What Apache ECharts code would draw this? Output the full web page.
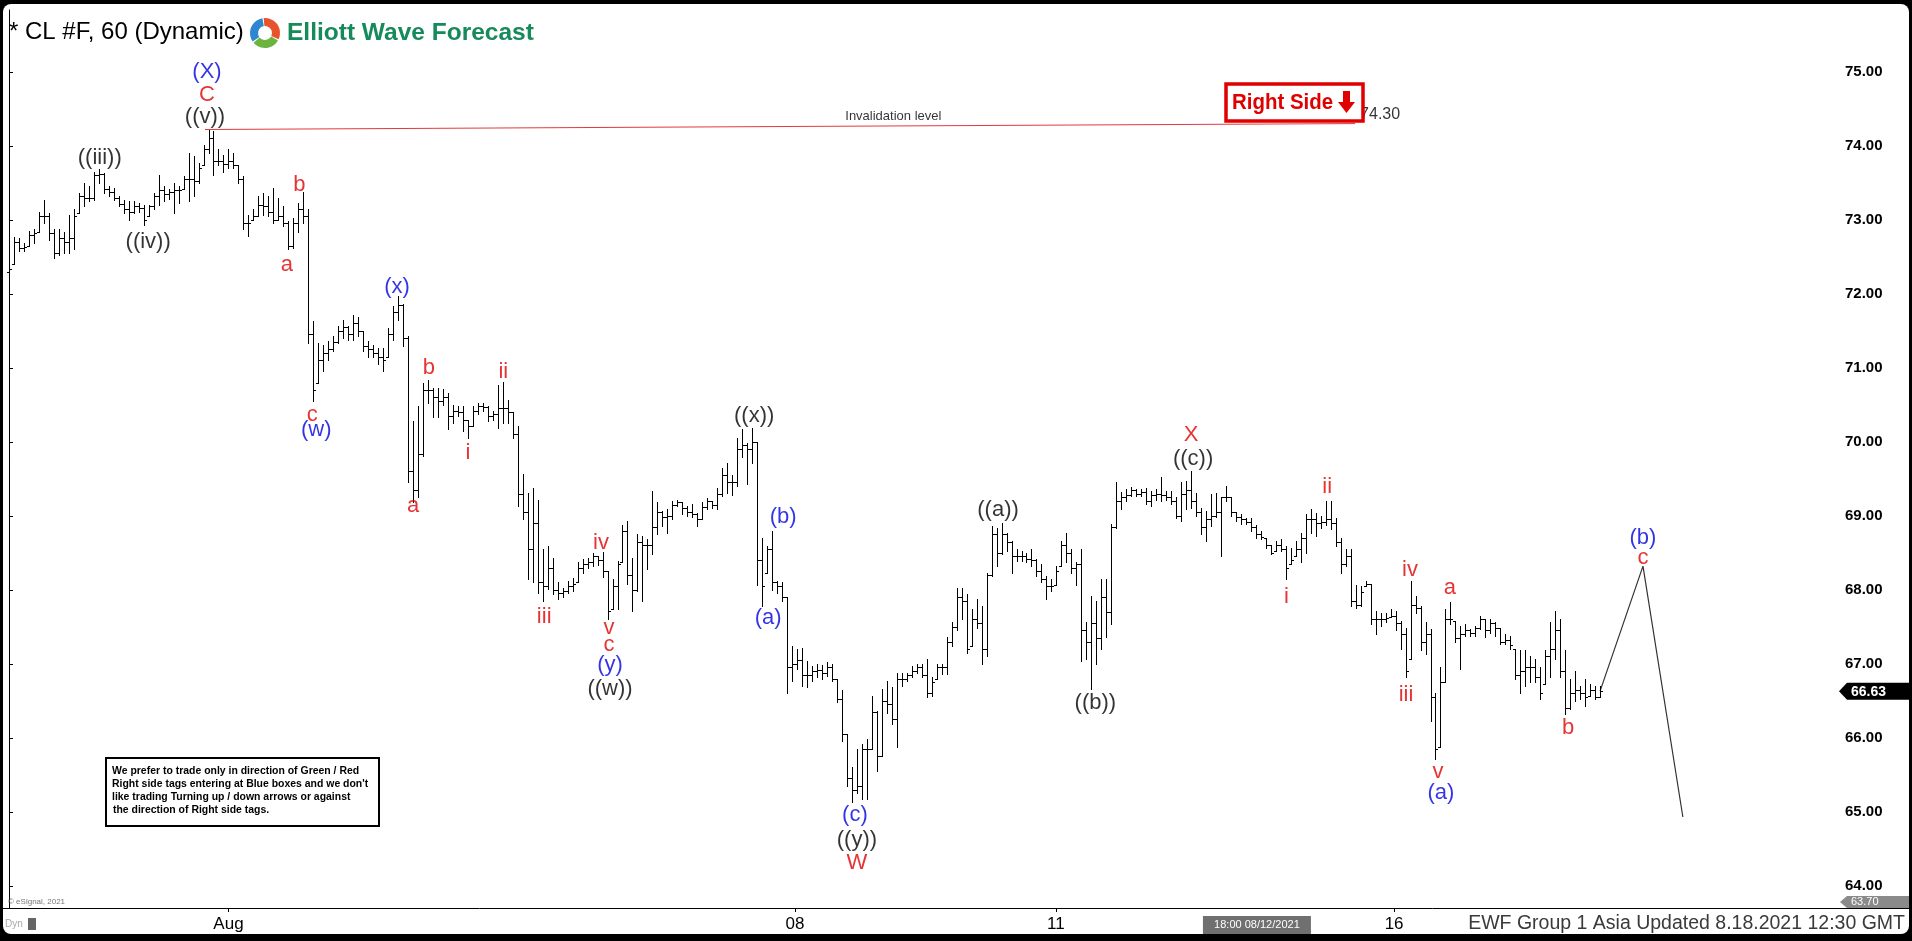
<!DOCTYPE html>
<html><head><meta charset="utf-8">
<script src="https://cdn.jsdelivr.net/npm/echarts@6/dist/echarts.min.js"></script>
<style>html,body{margin:0;padding:0;background:#000;overflow:hidden}#c{width:1912px;height:941px}</style>
</head><body><div id="c"></div>
<script>
// ---- Data (hourly OHLC bars, CL #F) ----
const opens = [
72.30,72.40,72.70,72.62,72.64,72.80,72.84,73.05,73.05,72.82,
72.55,72.75,72.70,72.75,73.09,73.32,73.30,73.30,73.60,73.62,
73.42,73.38,73.30,73.22,73.14,73.10,73.18,73.16,73.05,73.18,
73.32,73.40,73.35,73.38,73.40,73.41,73.55,73.55,73.52,73.74,
73.95,74.10,73.80,73.80,73.75,73.80,73.74,73.55,72.95,73.00,
73.05,73.20,73.18,73.10,73.00,73.05,72.95,72.65,72.95,73.15,
73.05,71.45,70.80,71.10,71.20,71.25,71.35,71.50,71.55,71.45,
71.60,71.50,71.30,71.25,71.20,71.15,71.14,71.45,71.75,71.85,
71.40,69.60,69.35,69.83,70.70,70.70,70.60,70.55,70.60,70.35,
70.42,70.40,70.30,70.22,70.42,70.48,70.47,70.35,70.38,70.45,
70.45,70.40,70.10,69.30,69.05,68.55,68.90,68.10,68.05,68.30,
68.00,67.95,67.98,68.05,68.10,68.30,68.35,68.38,68.45,68.40,
68.25,67.74,68.05,68.37,68.80,68.20,68.00,68.65,68.60,68.60,
68.85,69.05,68.98,69.00,69.15,69.18,69.10,69.05,69.02,68.95,
69.12,69.20,69.15,69.30,69.55,69.45,69.45,69.90,69.95,69.90,
70.00,68.40,68.23,68.55,68.10,68.05,67.90,66.95,67.00,67.05,
66.85,66.85,66.90,66.92,66.88,66.95,66.80,66.52,66.05,65.45,
65.30,65.35,65.85,65.85,66.35,65.76,66.50,66.45,66.25,66.80,
66.80,66.85,66.90,66.95,66.85,66.60,66.79,66.95,66.95,67.30,
67.50,67.90,67.85,67.24,67.60,67.55,67.20,68.20,68.75,68.50,
68.75,68.65,68.45,68.45,68.45,68.42,68.40,68.25,68.15,68.05,
68.07,68.32,68.60,68.50,68.30,68.35,67.45,67.30,67.55,67.35,
67.90,67.70,68.85,69.20,69.25,69.28,69.35,69.30,69.32,69.20,
69.28,69.30,69.28,69.25,69.20,69.00,69.30,69.35,69.20,69.05,
68.85,68.95,69.00,69.05,69.25,69.25,69.05,68.98,68.95,68.92,
68.85,68.75,68.70,68.60,68.52,68.60,68.55,68.35,68.46,68.55,
68.70,68.95,68.95,68.90,68.92,68.95,68.90,68.65,68.35,68.45,
67.85,67.80,68.05,68.08,67.60,67.60,67.60,67.63,67.65,67.55,
67.40,67.06,67.80,67.75,67.30,67.40,66.55,65.87,66.75,67.60,
67.58,67.35,67.40,67.45,67.42,67.48,67.60,67.45,67.55,67.48,
67.30,67.32,67.20,66.85,66.90,66.95,66.95,66.82,66.73,67.10,
67.20,67.45,66.90,66.40,66.60,66.65,66.60,66.57,66.65,66.55];
const highs = [
72.40,72.77,72.75,72.68,72.85,72.87,73.11,73.27,73.09,72.87,
72.87,72.84,73.07,73.14,73.36,73.50,73.45,73.65,73.68,73.63,
73.45,73.43,73.32,73.27,73.25,73.25,73.23,73.20,73.20,73.36,
73.61,73.45,73.42,73.50,73.45,73.59,73.90,73.86,73.77,74.01,
74.22,74.20,73.95,73.88,73.95,73.90,73.74,73.59,73.07,73.14,
73.32,73.36,73.32,73.43,73.30,73.18,72.98,73.02,73.23,73.38,
73.14,71.63,71.34,71.31,71.36,71.43,71.56,71.65,71.56,71.72,
71.68,71.50,71.36,71.31,71.27,71.27,71.54,71.83,71.97,71.86,
71.43,70.28,70.48,70.80,70.84,70.73,70.73,70.71,70.66,70.50,
70.48,70.48,70.30,70.48,70.53,70.53,70.48,70.42,70.77,70.81,
70.57,70.40,70.21,69.56,69.31,69.38,69.22,68.55,68.59,68.43,
68.10,68.03,68.12,68.16,68.37,68.41,68.43,68.50,68.46,68.51,
68.26,68.14,68.39,68.88,68.93,68.43,68.75,68.73,68.68,69.33,
69.18,69.06,69.09,69.20,69.22,69.19,69.13,69.16,69.04,69.18,
69.24,69.20,69.38,69.65,69.72,69.55,70.05,70.17,69.99,70.18,
70.00,68.70,68.59,68.80,68.12,68.10,67.90,67.24,67.20,67.22,
67.04,66.97,67.00,66.98,67.02,67.00,66.80,66.64,66.05,65.60,
65.85,65.92,65.98,66.57,66.36,66.66,66.77,66.68,66.88,66.88,
66.88,66.97,67.00,67.00,67.06,66.82,67.00,67.00,67.36,67.56,
68.03,68.03,67.94,67.74,67.87,67.78,68.23,68.86,68.84,68.90,
68.77,68.66,68.55,68.52,68.50,68.55,68.41,68.35,68.19,68.14,
68.32,68.66,68.77,68.55,68.37,68.55,67.56,67.92,67.85,68.14,
68.14,68.89,69.45,69.32,69.36,69.39,69.36,69.36,69.38,69.34,
69.36,69.52,69.34,69.34,69.25,69.45,69.47,69.61,69.31,69.11,
69.07,69.29,69.31,69.25,69.40,69.25,69.05,69.02,68.97,68.97,
68.88,68.79,68.70,68.61,68.66,68.68,68.59,68.57,68.66,68.77,
69.02,69.09,69.04,69.00,69.20,69.20,68.97,68.70,68.55,68.55,
68.07,68.05,68.12,68.08,67.72,67.69,67.69,67.74,67.72,67.58,
67.49,68.12,67.92,67.78,67.56,67.47,66.61,66.95,67.74,67.83,
67.58,67.51,67.54,67.47,67.51,67.65,67.60,67.60,67.56,67.49,
67.40,67.38,67.20,67.18,67.18,67.11,67.06,66.95,67.18,67.56,
67.72,67.60,67.18,66.79,66.90,66.70,66.79,66.73,66.70,66.70];
const lows = [
72.24,72.40,72.58,72.58,72.64,72.69,72.84,72.96,72.73,72.48,
72.53,72.55,72.55,72.60,73.09,73.18,73.25,73.27,73.50,73.36,
73.32,73.27,73.18,73.09,73.00,73.09,73.11,72.93,73.05,73.14,
73.20,73.25,73.28,73.09,73.23,73.41,73.25,73.32,73.50,73.74,
73.90,73.61,73.74,73.65,73.70,73.70,73.50,72.87,72.78,73.00,
73.05,73.07,73.05,72.96,73.00,72.91,72.60,72.62,72.84,72.96,
71.34,70.55,70.80,70.96,71.11,71.23,71.34,71.40,71.38,71.38,
71.43,71.23,71.14,71.14,71.05,70.96,71.14,71.38,71.65,71.29,
69.45,69.18,69.25,69.81,70.53,70.33,70.33,70.50,70.17,70.26,
70.35,70.15,70.05,70.22,70.37,70.42,70.28,70.30,70.19,70.26,
70.26,70.05,69.13,68.95,68.14,68.10,67.96,67.85,68.01,67.94,
67.87,67.90,67.96,67.99,68.10,68.23,68.30,68.32,68.34,68.17,
67.60,67.74,67.74,68.37,68.08,67.72,67.99,67.85,68.28,68.48,
68.75,68.86,68.77,68.95,69.13,69.02,69.00,68.98,68.86,68.95,
69.09,69.11,69.09,69.27,69.31,69.28,69.40,69.79,69.43,69.72,
68.07,67.78,68.23,68.00,67.96,67.85,66.61,66.77,66.93,66.70,
66.68,66.77,66.82,66.80,66.84,66.77,66.48,65.96,65.35,65.13,
65.26,65.17,65.17,65.85,65.55,65.76,66.34,66.18,65.87,66.70,
66.77,66.82,66.88,66.82,66.55,66.57,66.79,66.86,66.86,67.24,
67.45,67.60,67.15,67.24,67.49,67.00,67.11,68.19,68.32,68.48,
68.52,68.23,68.39,68.39,68.37,68.32,68.19,68.10,67.87,67.99,
68.07,68.32,68.37,68.23,68.07,67.04,67.07,66.66,67.00,67.20,
67.36,67.54,68.84,69.09,69.20,69.27,69.27,69.27,69.16,69.13,
69.22,69.20,69.22,69.16,68.97,68.93,69.09,69.11,69.00,68.75,
68.66,68.86,68.98,68.46,69.20,69.00,68.93,68.89,68.89,68.79,
68.70,68.68,68.57,68.48,68.52,68.52,68.14,68.35,68.46,68.37,
68.50,68.77,68.73,68.84,68.88,68.82,68.59,68.23,68.32,67.78,
67.76,67.78,68.05,67.54,67.40,67.51,67.56,67.63,67.45,67.20,
66.82,67.06,67.69,67.18,67.13,66.23,65.71,65.87,66.75,67.54,
67.29,66.93,67.38,67.38,67.38,67.47,67.36,67.42,67.38,67.27,
67.27,67.20,66.79,66.61,66.70,66.75,66.75,66.52,66.73,66.82,
67.06,66.82,66.32,66.39,66.50,66.52,66.43,66.57,66.52,66.55];
const closes = [
72.33,72.70,72.62,72.63,72.80,72.82,73.05,73.05,72.82,72.55,
72.75,72.70,72.75,73.05,73.32,73.30,73.30,73.60,73.62,73.42,
73.38,73.30,73.22,73.14,73.10,73.18,73.16,73.00,73.18,73.32,
73.40,73.35,73.38,73.40,73.40,73.55,73.55,73.52,73.70,73.95,
74.10,73.80,73.80,73.75,73.80,73.74,73.55,72.95,72.95,73.05,
73.20,73.18,73.10,73.00,73.05,72.95,72.65,72.95,73.15,73.05,
71.45,70.70,71.10,71.20,71.25,71.35,71.50,71.55,71.45,71.60,
71.50,71.30,71.25,71.20,71.15,71.10,71.45,71.75,71.85,71.40,
69.60,69.35,69.83,70.70,70.70,70.60,70.55,70.60,70.35,70.42,
70.40,70.30,70.22,70.42,70.48,70.47,70.35,70.38,70.45,70.45,
70.40,70.10,69.30,69.05,68.55,68.90,68.10,68.05,68.30,68.00,
67.95,67.98,68.05,68.08,68.30,68.35,68.38,68.45,68.40,68.25,
67.72,68.05,68.35,68.80,68.20,68.00,68.65,68.60,68.60,68.85,
69.05,68.98,69.00,69.15,69.18,69.10,69.05,69.02,68.95,69.12,
69.20,69.15,69.30,69.55,69.45,69.45,69.90,69.95,69.90,70.00,
68.40,68.05,68.55,68.10,68.05,67.90,66.95,67.00,67.05,66.85,
66.85,66.90,66.92,66.88,66.95,66.80,66.52,66.05,65.45,65.30,
65.35,65.85,65.85,66.35,65.75,66.50,66.45,66.25,66.80,66.80,
66.85,66.90,66.95,66.85,66.60,66.75,66.95,66.95,67.30,67.50,
67.90,67.85,67.20,67.60,67.55,67.20,68.20,68.75,68.50,68.75,
68.65,68.45,68.45,68.45,68.42,68.40,68.25,68.15,68.05,68.05,
68.25,68.60,68.50,68.30,68.35,67.45,67.30,67.55,67.35,67.90,
67.70,68.85,69.20,69.25,69.28,69.35,69.30,69.32,69.20,69.28,
69.30,69.28,69.25,69.20,69.00,69.30,69.35,69.20,69.05,68.85,
68.95,69.00,69.05,69.25,69.25,69.05,68.98,68.95,68.92,68.85,
68.75,68.72,68.60,68.50,68.60,68.55,68.30,68.40,68.55,68.70,
68.95,68.95,68.90,68.92,68.95,68.90,68.65,68.35,68.45,67.85,
67.80,67.97,68.08,67.60,67.60,67.60,67.62,67.65,67.55,67.40,
66.90,67.80,67.75,67.30,67.40,66.55,65.85,66.75,67.60,67.60,
67.35,67.40,67.45,67.42,67.48,67.60,67.45,67.55,67.48,67.30,
67.32,67.25,66.85,66.90,66.95,66.95,66.82,66.60,67.10,67.20,
67.45,66.90,66.40,66.60,66.65,66.60,66.55,66.65,66.55,66.63];

const priceTicks = [64,65,66,67,68,69,70,71,72,73,74,75];
const dateTickPos = [44.0,157.6,209.9,277.7];
const dateTickLabels = ['Aug','08','11','16'];
const crosshairPos = 250.2;
const crosshairLabel = '18:00 08/12/2021';
const lastPrice = 66.63;
const axisMinPrice = 63.70;
const axisMaxPrice = 75.835;
const invalidationLine = [[39.3,74.22],[269.9,74.30]];
const projectionPath = [[319,66.63],[327.6,68.32],[335.6,64.93]];
// [text, bar position, price, colour]
const BLUE='#0000e0', RED='#e00000', BLK='#000000';
const waveLabels = [
['(X)',39.7,75.00,BLUE],['C',39.7,74.69,RED],['((v))',39.3,74.39,BLK],
['((iii))',18.2,73.84,BLK],['((iv))',27.9,72.70,BLK],
['b',58.2,73.47,RED],['a',55.7,72.39,RED],['(x)',77.8,72.09,BLUE],
['c',60.8,70.36,RED],['(w)',61.6,70.16,BLUE],
['b',84.2,71.00,RED],['ii',99.1,70.94,RED],['i',92.0,69.85,RED],['a',81.0,69.13,RED],
['iii',107.3,67.63,RED],['iv',118.7,68.63,RED],['v',120.3,67.48,RED],['c',120.3,67.25,RED],
['(y)',120.5,66.98,BLUE],['((w))',120.5,66.66,BLK],
['((x))',149.4,70.35,BLK],['(b)',155.2,68.98,BLUE],['(a)',152.2,67.62,BLUE],
['(c)',169.6,64.96,BLUE],['((y))',170.0,64.62,BLK],['W',170.0,64.31,RED],
['((a))',198.3,69.08,BLK],['((b))',217.8,66.47,BLK],
['X',237.0,70.09,RED],['((c))',237.4,69.77,BLK],
['i',256.1,67.90,RED],['ii',264.3,69.39,RED],
['iv',280.9,68.27,RED],['iii',280.1,66.58,RED],['a',288.9,68.02,RED],
['v',286.5,65.54,RED],['(a)',287.1,65.25,BLUE],['b',312.6,66.13,RED],
['(b)',327.6,68.70,BLUE],['c',327.6,68.43,RED]
];
const textNotes = [['Invalidation level',177.3,74.40,13],['74.30',274.9,74.42,16]];

// ---- Chart ----
const FONT = 'Liberation Sans, Arial, Helvetica, sans-serif';
const chart = echarts.init(document.getElementById('c'), null, {renderer:'canvas', width:1912, height:941});
const bars = opens.map((o,i)=>[i,o,highs[i],lows[i],closes[i]]);

function renderOHLC(params, api){
  const i=api.value(0);
  const pH=api.coord([i,api.value(2)]), pL=api.coord([i,api.value(3)]);
  const pO=api.coord([i,api.value(1)]), pC=api.coord([i,api.value(4)]);
  const xi=Math.round(pH[0]); const x=xi+0.5;
  const st={stroke:'#000',lineWidth:1};
  return {type:'group',children:[
    {type:'line',shape:{x1:x,y1:Math.round(pH[1]),x2:x,y2:Math.round(pL[1])+1},style:st},
    {type:'line',shape:{x1:xi-2,y1:Math.round(pO[1])+0.5,x2:xi,y2:Math.round(pO[1])+0.5},style:st},
    {type:'line',shape:{x1:xi+1,y1:Math.round(pC[1])+0.5,x2:xi+3,y2:Math.round(pC[1])+0.5},style:st}
  ]};
}

function txt(id,x,y,text,font,fill,align,valign,extra){
  return Object.assign({type:'text',id:id,x:x,y:y,z:80,silent:true,
    style:{text:text,font:font,fill:fill,textAlign:align||'left',align:align||'left',
      textVerticalAlign:valign||'middle',verticalAlign:valign||'middle'}},extra||{});
}
const deg=Math.PI/180;
const staticGraphics = [
  {type:'rect',id:'frame',z:-10,silent:true,shape:{x:3,y:4,width:1906,height:930,r:8},style:{fill:'#fff'}},
  txt('title',9,32,'* CL #F, 60 (Dynamic)','24px '+FONT,'#000'),
  {type:'sector',id:'lg1',z:50,shape:{cx:265,cy:33,r:15,r0:7,startAngle:-95*deg,endAngle:25*deg},style:{fill:'#e8532b'}},
  {type:'sector',id:'lg2',z:50,shape:{cx:265,cy:33,r:15,r0:7,startAngle:30*deg,endAngle:140*deg},style:{fill:'#6cb33f'}},
  {type:'sector',id:'lg3',z:50,shape:{cx:265,cy:33,r:15,r0:7,startAngle:145*deg,endAngle:260*deg},style:{fill:'#2f86d0'}},
  txt('ewf',287,33,'Elliott Wave Forecast','bold 24.5px '+FONT,'#178a5c'),
  {type:'rect',id:'rsbox',z:60,shape:{x:1226,y:84,width:137,height:37},style:{fill:'#fff',stroke:'#e00000',lineWidth:3.5}},
  txt('rstext',1232,103,'Right Side','bold 22px '+FONT,'#e00000','left','middle',{scaleX:0.93}),
  {type:'rect',id:'rsarr1',z:81,shape:{x:1343,y:91,width:7,height:12},style:{fill:'#e00000'}},
  {type:'polygon',id:'rsarr2',z:81,shape:{points:[[1338,102],[1355,102],[1346.5,113]]},style:{fill:'#e00000'}},
  {type:'rect',id:'infobox',z:60,shape:{x:106,y:758,width:273,height:68},style:{fill:'#fff',stroke:'#000',lineWidth:2}},
  txt('inf1',112,771,'We prefer to trade only in direction of Green / Red','bold 11px '+FONT,'#000','left','middle',{scaleX:0.95}),
  txt('inf2',112,784,"Right side tags entering at Blue boxes and we don't",'bold 11px '+FONT,'#000','left','middle',{scaleX:0.95}),
  txt('inf3',112,797,'like trading Turning up / down arrows or against','bold 11px '+FONT,'#000','left','middle',{scaleX:0.95}),
  txt('inf4',113,810,'the direction of Right side tags.','bold 11px '+FONT,'#000','left','middle',{scaleX:0.95}),
  {type:'line',id:'baseline',z:40,shape:{x1:3,y1:908.5,x2:1909,y2:908.5},style:{stroke:'#000',lineWidth:1}},
  txt('esig',8,902,'\u00a9 eSignal, 2021','8px '+FONT,'#777'),
  txt('dyn',5,924,'Dyn','10px '+FONT,'#aaa'),
  {type:'rect',id:'dynicon',z:50,shape:{x:28,y:918,width:8,height:12},style:{fill:'#666'}},
  txt('footer',1905,924,'EWF Group 1 Asia Updated 8.18.2021 12:30 GMT','19.5px '+FONT,'#3a3a3a','right')
];

chart.setOption({
  animation:false,
  backgroundColor:'#000',
  grid:{left:8,right:74,top:10,bottom:33,containLabel:false},
  xAxis:{type:'value',min:-0.2,max:366.7,
    axisLine:{show:false},splitLine:{show:false},
    axisTick:{show:true,customValues:dateTickPos,length:4,lineStyle:{color:'#000'}},
    axisLabel:{show:true,customValues:dateTickPos,margin:8,fontSize:17,fontFamily:FONT,color:'#000',
      formatter:function(v){let k=0,b=1e9;dateTickPos.forEach((p,j)=>{if(Math.abs(p-v)<b){b=Math.abs(p-v);k=j;}});return dateTickLabels[k];}}},
  yAxis:{type:'value',position:'right',min:axisMinPrice,max:axisMaxPrice,scale:true,
    axisLine:{show:true,lineStyle:{color:'#000',width:1}},splitLine:{show:false},
    axisTick:{show:true,customValues:priceTicks,length:4,lineStyle:{color:'#000'}},
    axisLabel:{show:true,customValues:priceTicks,margin:7,fontSize:15,fontWeight:'bold',fontFamily:FONT,color:'#000',
      formatter:v=>v.toFixed(2)}},
  series:[
    {type:'custom',name:'CL',renderItem:renderOHLC,data:bars,encode:{x:0,y:[1,2,3,4]},silent:true,z:5},
    {type:'line',name:'inval',data:invalidationLine,showSymbol:false,silent:true,z:4,
      lineStyle:{color:'#e23a3a',width:1}},
    {type:'line',name:'proj',data:projectionPath,showSymbol:false,silent:true,z:4,
      lineStyle:{color:'#333',width:1.2}},
    {type:'scatter',name:'waves',silent:true,z:10,symbolSize:1,itemStyle:{color:'rgba(0,0,0,0)'},
      data:waveLabels.map(w=>({name:w[0],value:[w[1],w[2]],label:{color:w[3]}})),
      label:{show:true,position:'inside',formatter:p=>p.name,fontSize:22,fontFamily:FONT}},
    {type:'scatter',name:'notes',silent:true,z:10,symbolSize:1,itemStyle:{color:'rgba(0,0,0,0)'},
      data:textNotes.map(w=>({name:w[0],value:[w[1],w[2]],label:{fontSize:w[3]}})),
      label:{show:true,position:'inside',formatter:p=>p.name,color:'#000',fontFamily:FONT}}
  ],
  graphic:staticGraphics
});

// dynamic markers placed via the chart's own scales
const yLast = chart.convertToPixel({gridIndex:0},[0,lastPrice])[1];
const yMin = chart.convertToPixel({gridIndex:0},[0,axisMinPrice])[1];
const xCross = chart.convertToPixel({gridIndex:0},[crosshairPos,axisMinPrice])[0];
const dyn = [
  {type:'polygon',id:'pm',z:70,shape:{points:[[1839,yLast],[1847,yLast-8.5],[1912,yLast-8.5],[1912,yLast+8.5],[1847,yLast+8.5]]},style:{fill:'#000'}},
  txt('pmt',1851,yLast+0.5,lastPrice.toFixed(2),'bold 14px '+FONT,'#fff','left','middle'),
  {type:'polygon',id:'mm',z:70,shape:{points:[[1840,yMin-6],[1847,yMin-12],[1909,yMin-12],[1909,yMin],[1847,yMin]]},style:{fill:'#8a8a8a'}},
  txt('mmt',1851,yMin-6,axisMinPrice.toFixed(2),'11px '+FONT,'#fff','left','middle'),
  {type:'rect',id:'cr',z:70,shape:{x:xCross-54,y:916,width:108,height:18},style:{fill:'#707070'}},
  txt('crt',xCross,925,crosshairLabel,'11px '+FONT,'#fff','center','middle')
];
chart.setOption({graphic:staticGraphics.concat(dyn)});
</script>
</body></html>
